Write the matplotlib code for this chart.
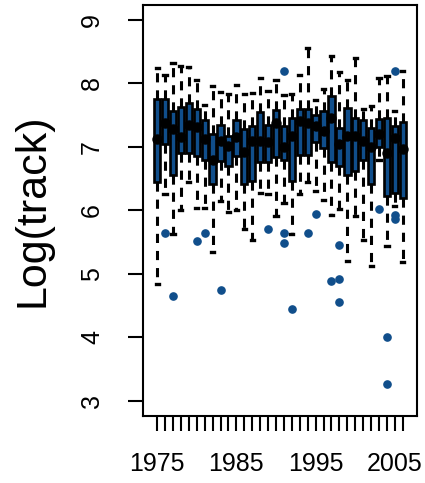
import matplotlib
matplotlib.use("Agg")
import matplotlib.pyplot as plt
import numpy as np

plt.rcParams['font.family'] = ['Liberation Sans', 'DejaVu Sans']

# yearly summaries of log(track)
years = list(range(1975, 2007))
whis_lo = [4.84, 6.26, 5.62, 6.01, 6.45, 6.04, 6.03, 5.35, 6.15, 5.97, 6.01, 5.71, 5.54, 6.28, 6.25, 5.91,
           6.12, 5.62, 6.25, 6.44, 6.30, 6.17, 5.92, 6.02, 5.20, 5.91, 5.53, 5.13, 6.80, 5.44, 6.07, 5.19]
q1 = [6.44, 7.05, 6.56, 6.90, 6.91, 6.86, 6.80, 6.41, 6.78, 6.70, 6.86, 6.41, 6.46, 6.77, 6.77, 6.84,
      6.80, 6.46, 6.88, 6.87, 7.07, 6.99, 6.77, 6.70, 6.55, 6.62, 6.80, 6.41, 7.00, 6.23, 6.28, 6.20]
med = [7.13, 7.37, 7.29, 7.16, 7.35, 7.32, 7.13, 6.79, 7.10, 7.02, 7.15, 6.92, 7.10, 7.10, 7.08, 7.38,
       7.00, 7.17, 7.41, 7.37, 7.33, 7.25, 7.45, 7.04, 7.17, 7.17, 7.10, 7.00, 7.20, 6.91, 7.14, 6.97]
q3 = [7.75, 7.75, 7.56, 7.63, 7.70, 7.60, 7.42, 7.21, 7.34, 7.17, 7.43, 7.28, 7.33, 7.55, 7.35, 7.58,
      7.33, 7.46, 7.59, 7.60, 7.51, 7.56, 7.80, 7.30, 7.62, 7.46, 7.43, 7.30, 7.44, 7.45, 7.33, 7.39]
whis_hi = [8.25, 8.14, 8.33, 8.28, 8.26, 8.05, 7.66, 7.96, 7.87, 7.84, 7.97, 7.84, 7.85, 8.09, 7.88, 8.06,
           7.82, 7.84, 8.13, 8.56, 7.74, 7.91, 8.43, 8.18, 8.06, 8.40, 7.60, 7.64, 8.08, 8.12, 7.56, 8.20]
outliers = {1976: [5.65], 1977: [4.65], 1980: [5.51], 1981: [5.65], 1983: [4.74], 1989: [5.70],
            1991: [8.19, 5.64, 5.48], 1992: [4.44], 1994: [5.64], 1995: [5.94], 1997: [4.89],
            1998: [5.45, 4.91, 4.55], 2003: [6.02], 2004: [4.00, 3.27], 2005: [8.19, 5.92, 5.87]}

blue = '#104E8B'

stats = []
for k, yr in enumerate(years):
    stats.append(dict(med=med[k], q1=q1[k], q3=q3[k], whislo=whis_lo[k], whishi=whis_hi[k],
                      fliers=outliers.get(yr, [])))

fig = plt.figure(figsize=(4.25, 4.83), dpi=100)
ax = fig.add_axes([0.3365, 0.139, 0.6445, 0.851])

pos = np.arange(1, len(years) + 1)
ax.bxp(stats, positions=pos, widths=0.8, patch_artist=True, manage_ticks=False,
       boxprops=dict(facecolor=blue, edgecolor='black', linewidth=1.9),
       whiskerprops=dict(color='black', linewidth=2.2, linestyle=(0, (3, 2.6))),
       capprops=dict(color='black', linewidth=2.4),
       medianprops=dict(color='black', linewidth=3),
       flierprops=dict(marker='o', markerfacecolor=blue, markeredgecolor=blue, markersize=5.2))
ax.plot(pos, med, 'o', color='black', markersize=6.5, zorder=5)

ax.set_xlim(-0.78, 33.78)
ax.set_ylim(2.76, 9.24)
ax.set_yticks(range(3, 10))
ax.set_yticklabels([str(v) for v in range(3, 10)], rotation=90, va='center')
ax.set_xticks(pos)
ax.set_xticklabels([str(y) if y % 10 == 5 else '' for y in years])
ax.tick_params(direction='out', length=11, width=1.5, labelsize=18)
ax.tick_params(axis='x', pad=15)
ax.tick_params(axis='y', pad=17)
for s in ax.spines.values():
    s.set_linewidth(1.5)

ax.set_ylabel('Log(track)', fontsize=31, labelpad=20)

fig.savefig('out.png', dpi=100)
